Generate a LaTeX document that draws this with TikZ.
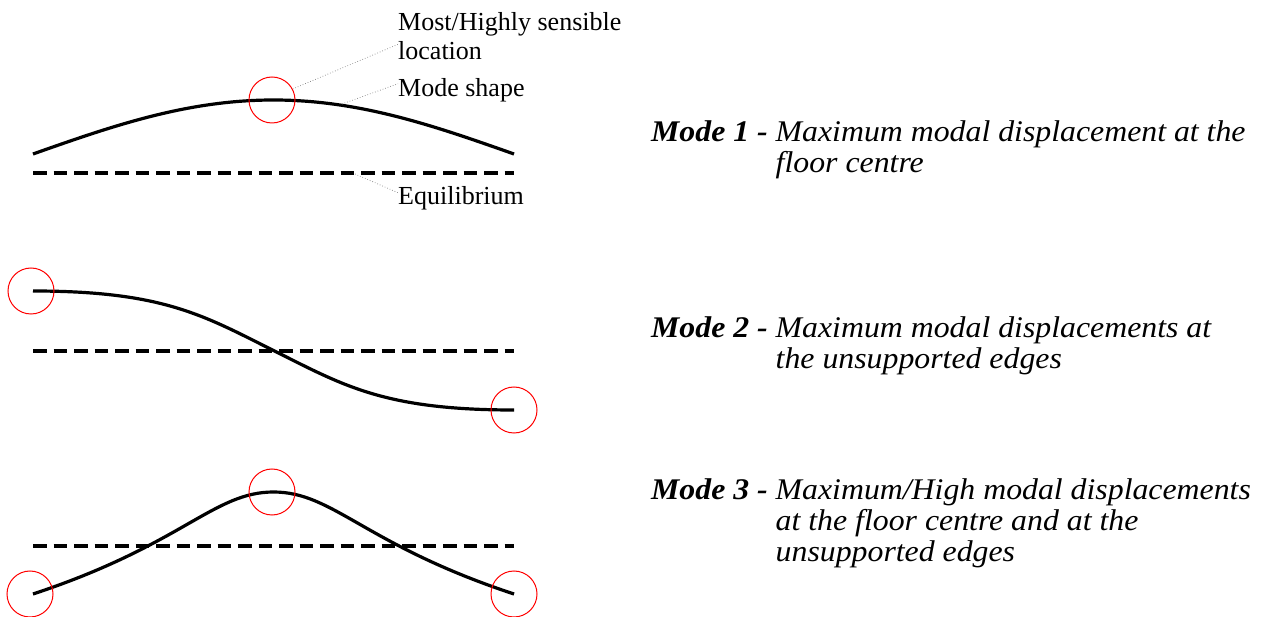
\documentclass[tikz,border=0pt]{standalone}
\usepackage{fontspec}
\setmainfont{Liberation Serif}
\newfontfamily\modefont[FakeStretch=1.06]{Liberation Serif}
\usetikzlibrary{positioning}

% mode description: bold label, then hanging italic text
\newcommand{\modedesc}[2]{%
  {\modefont\fontsize{30}{31}\selectfont
   \textbf{\textit{Mode #1 -}} \parbox[t]{520pt}{\itshape #2}}}

\begin{document}
\begin{tikzpicture}[
  x=1pt, y=-1pt,
  shapeline/.style={line width=3.2pt},
  equil/.style={line width=3.2pt, dash pattern=on 13.5pt off 7pt},
  spot/.style={draw=red, line width=1pt, circle, minimum size=46pt, inner sep=0pt},
  lead/.style={gray, line width=0.7pt, dotted},
  lbl/.style={font=\fontsize{26}{29.5}\selectfont, align=left, inner sep=0pt, anchor=base west},
  desc/.style={inner sep=0pt, anchor=base west},
]
\useasboundingbox (0,0) rectangle (1262,617);

% ---------- mode 1 ----------
\draw[equil] (33,173) coordinate (e1a) -- (514,173) coordinate (e1b);
\draw[shapeline] (33,154) sin (273.5,100) cos (514,154);
\node[spot] (p1) at (272,100) {};
\coordinate (shp) at (342,104);
\coordinate (eqp) at (355,174);

\node[lbl] (lmost) at (398,60) {Most/Highly sensible\\location};
\node[lbl] (lshape) at (398,97) {Mode shape};
\node[lbl] (leq) at (398,205) {Equilibrium};

\draw[lead] (p1.28) -- ([yshift=-8pt]lmost.west);
\draw[lead] (shp) -- ([yshift=7pt]lshape.west);
\draw[lead] (eqp) -- ([yshift=6pt]leq.west);

\node[desc] (m1) at (651,142) {\modedesc{1}{Maximum modal displacement at the\\floor centre}};

% ---------- mode 2 ----------
\draw[equil] (33,351) coordinate (e2a) -- (514,351) coordinate (e2b);
\draw[shapeline] (33,291) .. controls (163,291) and (203.5,315.5) .. (273.5,350.5)
  .. controls (343.5,385.5) and (384,410) .. (514,410);
\node[spot] (p2a) at (31,291) {};
\node[spot] (p2b) at (514,410) {};

\node[desc] (m2) at (651,338) {\modedesc{2}{Maximum modal displacements at\\the unsupported edges}};

% ---------- mode 3 ----------
\draw[equil] (33,546) coordinate (e3a) -- (514,546) coordinate (e3b);
\draw[shapeline] (33,594) .. controls (183,544.5) and (213.5,492) .. (273.5,492)
  .. controls (333.5,492) and (364,544.5) .. (514,594);
\node[spot] (p3a) at (30,594) {};
\node[spot] (p3b) at (272,492) {};
\node[spot] (p3c) at (514,594) {};

\node[desc] (m3) at (651,500) {\modedesc{3}{Maximum/High modal displacements\\at the floor centre and at the\\unsupported edges}};

\end{tikzpicture}
\end{document}
